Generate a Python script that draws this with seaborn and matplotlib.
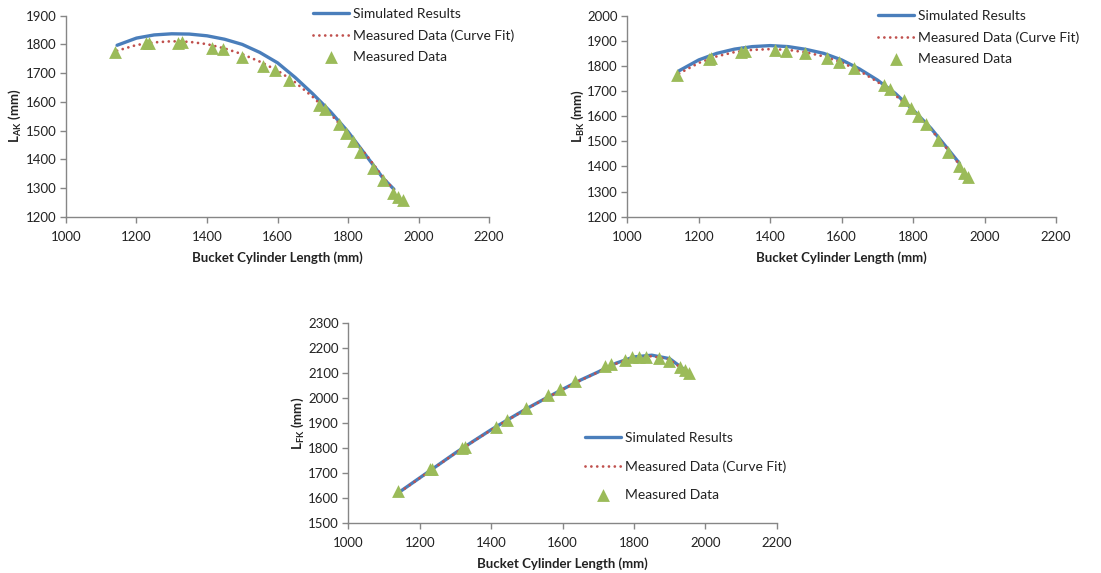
import matplotlib
matplotlib.use("Agg")
import matplotlib.pyplot as plt
import seaborn as sns

# ---------------- data ----------------
meas_x = [1140, 1228, 1235, 1318, 1328, 1413, 1445, 1498, 1560, 1593, 1634, 1719,
          1735, 1775, 1795, 1815, 1835, 1870, 1898, 1928, 1943, 1955]

# L_AK
ak_meas = [1772, 1804, 1806, 1806, 1808, 1789, 1784, 1757, 1725, 1711, 1676, 1589,
           1574, 1523, 1490, 1463, 1426, 1368, 1327, 1283, 1270, 1258]
ak_sim_x = [1145, 1200, 1250, 1300, 1350, 1400, 1450, 1500, 1550, 1600, 1650, 1700,
            1750, 1800, 1850, 1900, 1930]
ak_sim = [1797, 1822, 1833, 1837, 1836, 1830, 1818, 1800, 1772, 1736, 1685, 1628,
          1566, 1496, 1415, 1333, 1296]
ak_fit_x = [1145, 1200, 1250, 1300, 1350, 1400, 1450, 1500, 1550, 1600, 1650, 1700,
            1750, 1800, 1850, 1900, 1940]
ak_fit = [1778, 1798, 1807, 1811, 1809, 1801, 1786, 1766, 1740, 1709, 1668, 1617,
          1558, 1490, 1418, 1337, 1279]

# L_BK
bk_meas = [1764, 1829, 1831, 1857, 1858, 1863, 1861, 1850, 1830, 1817, 1793, 1724,
           1707, 1664, 1631, 1602, 1567, 1505, 1456, 1402, 1372, 1359]
bk_sim_x = ak_sim_x
bk_sim = [1781, 1824, 1850, 1867, 1877, 1881, 1877, 1866, 1850, 1824, 1788, 1744,
          1691, 1625, 1552, 1465, 1412]
bk_fit_x = ak_fit_x
bk_fit = [1770, 1812, 1838, 1855, 1864, 1867, 1864, 1854, 1838, 1814, 1780, 1737,
          1684, 1620, 1547, 1462, 1388]

# L_FK
fk_meas = [1628, 1714, 1716, 1801, 1803, 1883, 1912, 1959, 2012, 2035, 2070, 2130,
           2137, 2153, 2164, 2166, 2166, 2162, 2149, 2126, 2113, 2099]
fk_sim_x = [1145, 1200, 1250, 1300, 1350, 1400, 1450, 1500, 1550, 1600, 1650, 1700,
            1750, 1800, 1850, 1900, 1950]
fk_sim = [1625, 1680, 1730, 1780, 1827, 1873, 1916, 1958, 1997, 2035, 2072, 2105,
          2140, 2165, 2172, 2158, 2105]
fk_fit = [1624, 1679, 1729, 1779, 1826, 1872, 1915, 1957, 1996, 2034, 2071, 2104,
          2138, 2162, 2168, 2154, 2102]

x_ticks = [1000, 1200, 1400, 1600, 1800, 2000, 2200]
ylabels = ["AK", "BK", "FK"]
leg_labels = ["Simulated Results", "Measured Data (Curve Fit)", "Measured Data"]

# ---------------- style ----------------
sns.set_style("white")
plt.rcParams["font.family"] = ["Lato", "DejaVu Sans"]
plt.rcParams["mathtext.fontset"] = "custom"
plt.rcParams["mathtext.rm"] = "Lato"
plt.rcParams["mathtext.bf"] = "Lato:bold"

BLUE = "#4A7EBB"
RED = "#C0504D"
GREEN = "#9BBB59"
AXC = "#868686"
TXT = "#222222"

fig = plt.figure(figsize=(11.01, 5.73), dpi=100)

panels = [
    dict(rect=[0.0599, 0.6218, 0.3843, 0.3508], ylim=(1200, 1900), yt=range(1200, 1901, 100),
         sx=ak_sim_x, sy=ak_sim, fx=ak_fit_x, fy=ak_fit, my=ak_meas, sub=ylabels[0],
         leg=(313 / 1101, 1 - 8 / 573), ls=0.66, ylx=15 / 1101),
    dict(rect=[0.5698, 0.6218, 0.3893, 0.3508], ylim=(1200, 2000), yt=range(1200, 2001, 100),
         sx=bk_sim_x, sy=bk_sim, fx=bk_fit_x, fy=bk_fit, my=bk_meas, sub=ylabels[1],
         leg=(878 / 1101, 1 - 10 / 573), ls=0.66, ylx=578 / 1101),
    dict(rect=[0.3164, 0.0878, 0.3891, 0.3480], ylim=(1500, 2300), yt=range(1500, 2301, 100),
         sx=fk_sim_x, sy=fk_sim, fx=fk_sim_x, fy=fk_fit, my=fk_meas, sub=ylabels[2],
         leg=(585 / 1101, 1 - 432 / 573), ls=1.16, ylx=298 / 1101),
]

for p in panels:
    ax = fig.add_axes(p["rect"])
    sns.lineplot(x=p["sx"], y=p["sy"], ax=ax, color=BLUE, linewidth=2.4, sort=False,
                 estimator=None, label=leg_labels[0])
    sns.lineplot(x=p["fx"], y=p["fy"], ax=ax, color=RED, linewidth=2.0, sort=False,
                 estimator=None, label=leg_labels[1])
    ax.lines[-1].set_linestyle((0, (0.01, 2.1)))
    ax.lines[-1].set_dash_capstyle("round")
    sns.scatterplot(x=meas_x, y=p["my"], ax=ax, marker="^", s=85, color=GREEN,
                    edgecolor=GREEN, linewidth=0, label=leg_labels[2], zorder=3)

    ax.set_xlim(1000, 2200)
    ax.set_ylim(*p["ylim"])
    ax.set_xticks(x_ticks)
    ax.set_yticks(list(p["yt"]))
    for s in ["top", "right"]:
        ax.spines[s].set_visible(False)
    for s in ["left", "bottom"]:
        ax.spines[s].set_color(AXC)
        ax.spines[s].set_linewidth(1.0)
    ax.tick_params(axis="both", which="major", direction="out", length=4, width=1.0,
                   color=AXC, labelsize=9.5, labelcolor=TXT, pad=3)
    ax.tick_params(axis="x", bottom=True, pad=6)
    ax.tick_params(axis="y", left=True)
    ax.set_xlabel("Bucket Cylinder Length (mm)", fontsize=9.5, fontweight="bold",
                  color=TXT, labelpad=6)
    ax.set_ylabel("")
    fig.text(p["ylx"], p["rect"][1] + p["rect"][3] / 2,
             r"$\mathbf{L}_{\mathbf{" + p["sub"] + r"}}$ (mm)", rotation=90,
             ha="center", va="center", fontsize=9.5, fontweight="bold", color=TXT)

    h, l = ax.get_legend_handles_labels()
    leg = ax.legend(h, l, loc="upper left", bbox_to_anchor=p["leg"],
                    bbox_transform=fig.transFigure, frameon=False, fontsize=10,
                    handlelength=2.6, handletextpad=0.3, labelspacing=p["ls"],
                    borderpad=0, borderaxespad=0, labelcolor=TXT)
    leg.get_lines()[1].set_linestyle((0, (0.01, 2.1)))
    leg.get_lines()[1].set_dash_capstyle("round")

fig.savefig("out.png", dpi=100, facecolor="white")
